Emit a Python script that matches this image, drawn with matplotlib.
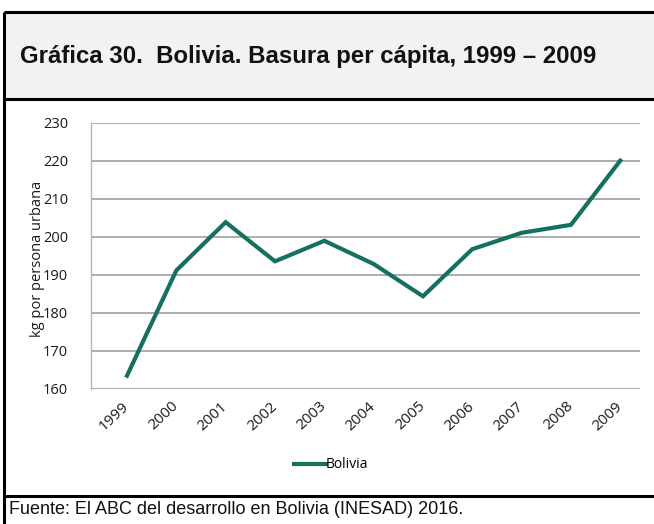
import matplotlib
matplotlib.use("Agg")
import matplotlib.pyplot as plt
from matplotlib.patches import Rectangle
from matplotlib.lines import Line2D
from matplotlib.transforms import ScaledTranslation

years = ["1999", "2000", "2001", "2002", "2003", "2004", "2005", "2006", "2007", "2008", "2009"]
values = [163.5, 191.2, 203.9, 193.6, 199.0, 192.9, 184.4, 196.8, 201.1, 203.2, 220.1]
yticks = [160, 170, 180, 190, 200, 210, 220, 230]

title = "Gráfica 30.  Bolivia. Basura per cápita, 1999 – 2009"
source = "Fuente: El ABC del desarrollo en Bolivia (INESAD) 2016."
ylabel = "kg por persona urbana"
series_name = "Bolivia"

W, H = 654, 524
fig = plt.figure(figsize=(W / 100, H / 100), dpi=100)
fig.patch.set_facecolor("white")

def fx(px):
    return px / W

def fy(py):
    return 1 - py / H

# Title box background
fig.patches.append(Rectangle((fx(4), fy(98.5)), fx(654 - 4), fy(12) - fy(98.5),
                             transform=fig.transFigure, facecolor="#f2f2f2",
                             edgecolor="none", zorder=0))
# Border lines
lw = 2.2
for (x0, y0, x1, y1) in [(4, 12, 654, 12), (4, 98.5, 654, 98.5), (4, 496, 654, 496),
                         (4, 12, 4, 524)]:
    fig.add_artist(Line2D([fx(x0), fx(x1)], [fy(y0), fy(y1)], transform=fig.transFigure,
                          color="black", lw=lw, solid_capstyle="butt"))

fig.text(fx(20), fy(57), title, fontsize=17.3, fontweight="bold",
         family="Liberation Sans", va="center", ha="left", color="#111111")
fig.text(fx(9), fy(510), source, fontsize=13.0, family="Liberation Sans",
         va="center", ha="left", color="#111111")

ax = fig.add_axes([fx(91), fy(389), fx(640 - 91), fy(123) - fy(389)])
x = list(range(len(years)))
ax.plot(x, values, color="#16705f", lw=3.0, solid_joinstyle="miter", zorder=3,
        label=series_name)
ax.set_xlim(-0.73, len(years) - 1 + 0.4)
ax.set_ylim(160, 230)
ax.set_yticks(yticks)
ax.set_xticks(x)
ax.set_xticklabels(years, rotation=43, ha="right", va="center", rotation_mode="anchor",
                   family="Open Sans", fontsize=11, color="#1a1a1a")
shift = ScaledTranslation(-6 / 100, 0, fig.dpi_scale_trans)
for lab in ax.get_xticklabels():
    lab.set_transform(lab.get_transform() + shift)
for lab in ax.get_yticklabels():
    lab.set_family("Open Sans")
    lab.set_fontsize(10.5)
    lab.set_color("#1a1a1a")
ax.tick_params(axis="both", length=0)
ax.tick_params(axis="y", pad=16.5)
ax.tick_params(axis="x", pad=11)
ax.yaxis.grid(True, color="#a6a6a6", lw=1.3)
ax.set_axisbelow(True)
for s in ["top", "right", "bottom"]:
    ax.spines[s].set_visible(False)
ax.spines["left"].set_color("#b5b5b5")
ax.spines["left"].set_linewidth(1.0)
ax.set_ylabel(ylabel, family="Open Sans", fontsize=10.5, color="#1a1a1a")
ax.yaxis.label.set_va("center")
ax.yaxis.set_label_coords(-53 / 549, 0.49)

leg = fig.legend(handles=[Line2D([], [], color="#16705f", lw=3.0)], labels=[series_name],
                 loc="center", bbox_to_anchor=(fx(331), fy(465)), frameon=False,
                 handlelength=2.3, handletextpad=0.0,
                 prop={"family": "Open Sans", "size": 10})

fig.savefig("out.png", dpi=100)
